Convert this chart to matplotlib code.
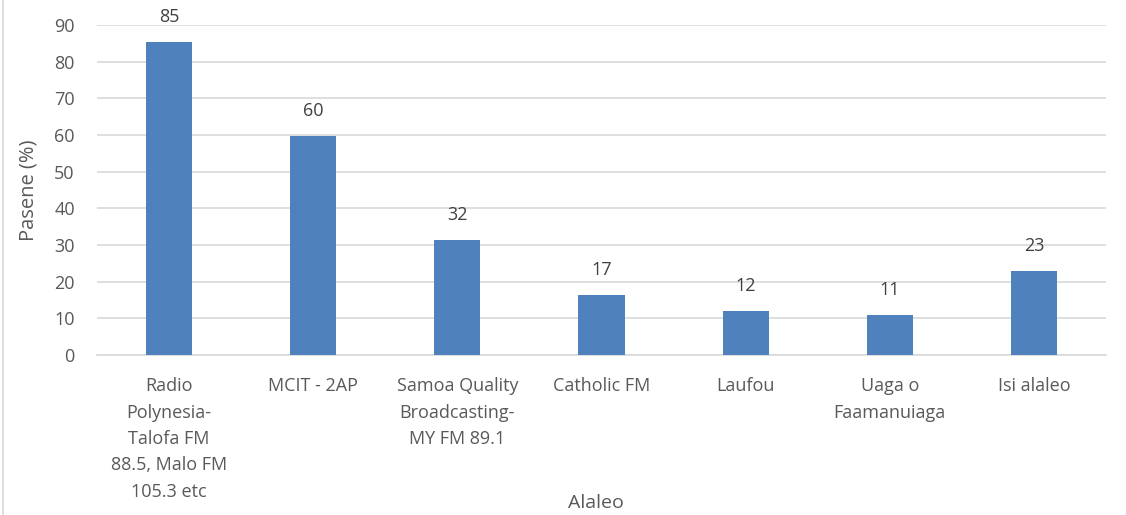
import matplotlib.pyplot as plt
import numpy as np

plt.rcParams['font.family'] = ['Open Sans', 'DejaVu Sans']

categories = ['Radio\nPolynesia-\nTalofa FM\n88.5, Malo FM\n105.3 etc',
              'MCIT - 2AP',
              'Samoa Quality\nBroadcasting-\nMY FM 89.1',
              'Catholic FM',
              'Laufou',
              'Uaga o\nFaamanuiaga',
              'Isi alaleo']
values = [85.3, 59.8, 31.5, 16.5, 12.0, 11.0, 22.9]
labels = ['85', '60', '32', '17', '12', '11', '23']

txt = '#595959'
fig = plt.figure(figsize=(11.26, 5.15), dpi=100)
ax = fig.add_axes([97 / 1126, 160 / 515, 1009 / 1126, 330 / 515])

x = np.arange(len(categories))
ax.bar(x, values, width=0.32, color='#4F81BD', zorder=3)
for xi, v, lab in zip(x, values, labels):
    ax.text(xi, v + 4.3, lab, ha='center', va='bottom', fontsize=13, color='#404040')

ax.set_xlim(-0.5, len(categories) - 0.5)
ax.set_ylim(0, 90)
ax.set_yticks(range(0, 91, 10))
ax.yaxis.grid(True, color='#D9D9D9', linewidth=1.2, zorder=0)
for s in ['top', 'right', 'left']:
    ax.spines[s].set_visible(False)
ax.spines['bottom'].set_color('#D9D9D9')
ax.spines['bottom'].set_linewidth(1.2)
ax.tick_params(axis='both', length=0, labelsize=13, colors=txt)
ax.tick_params(axis='y', pad=16)
ax.set_xticks(x)
ax.set_xticklabels(categories, linespacing=1.6, va='top')
ax.tick_params(axis='x', pad=16)

ax.set_ylabel('Pasene (%)', fontsize=14.5, color=txt, labelpad=11)
fig.text(596 / 1126, 1 - 503 / 515, 'Alaleo', ha='center', va='center', fontsize=14, color=txt)

# left border of the chart frame
fig.add_artist(plt.Line2D([3 / 1126, 3 / 1126], [0, 1], color='#D9D9D9', linewidth=1.2))

plt.savefig('out.png', dpi=100)
